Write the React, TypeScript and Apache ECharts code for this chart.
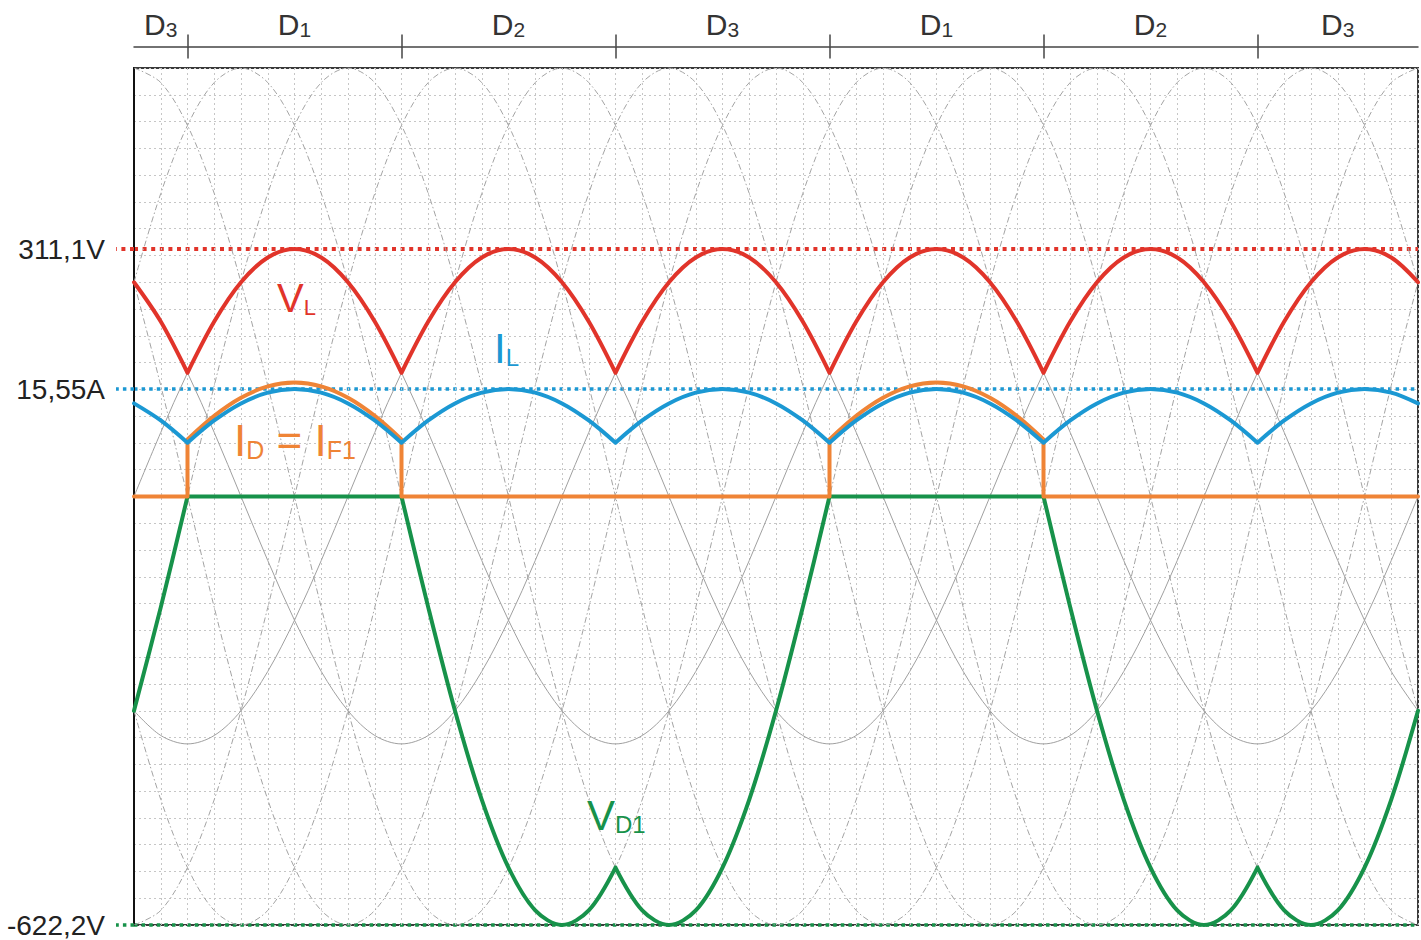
import React, { useEffect, useRef } from 'react';
import * as echarts from 'echarts';

// ---------- data ----------
// sampling grid of the angle axis, degrees (one sample per 15°, two periods)
const angleSamples = [
  0, 15, 30, 45, 60, 75, 90, 105, 120, 135, 150, 165, 180, 195, 210, 225, 240, 255, 270, 285, 300, 315, 330, 345,
  360, 375, 390, 405, 420, 435, 450, 465, 480, 495, 510, 525, 540, 555, 570, 585, 600, 615, 630, 645, 660, 675, 690, 705, 720,
];
const angleRange = [0, 720];

// one period of a phase voltage (V), every 15°
const phaseVoltageCycle = [
  0, 80.5, 155.6, 220.0, 269.4, 300.5, 311.1, 300.5, 269.4, 220.0, 155.6, 80.5,
  0, -80.5, -155.6, -220.0, -269.4, -300.5, -311.1, -300.5, -269.4, -220.0, -155.6, -80.5,
];
// one period of a line-to-line voltage (V), every 15°
const lineVoltageCycle = [
  0, 139.5, 269.4, 381.0, 466.6, 520.5, 538.8, 520.5, 466.6, 381.0, 269.4, 139.5,
  0, -139.5, -269.4, -381.0, -466.6, -520.5, -538.8, -520.5, -466.6, -381.0, -269.4, -139.5,
];
const phaseLagSamples = [0, 8, 16]; // phases A, B, C
const lineLeadSamples = [2, 6, 10, 14, 18, 22]; // AB, -BC, CA, -AB, BC, -CA

// one 120° conduction window, sampled every 15°
const windowOffsets = [0, 15, 30, 45, 60, 75, 90, 105, 120];
const loadVoltageArc = [155.6, 220.0, 269.4, 300.5, 311.1, 300.5, 269.4, 220.0, 155.6]; // V_L (V)
const loadCurrentArc = [7.78, 11.0, 13.47, 15.03, 15.55, 15.03, 13.47, 11.0, 7.78]; // I_L (A)
const diodeVoltageD1 = [0, 0, 0, 0, 0, 0, 0, 0, 0]; // V_D1 while D1 conducts
const diodeVoltageD2 = [0, -161.0, -311.1, -440.0, -538.8, -601.0, -622.2, -601.0, -538.8];
const diodeVoltageD3 = [-538.8, -601.0, -622.2, -601.0, -538.8, -440.0, -311.1, -161.0, 0];

const commutationAngles = [30, 150, 270, 390, 510, 630];
const conductingDiodes = ['D3', 'D1', 'D2', 'D3', 'D1', 'D2', 'D3'];

const peakLineVoltage = 538.8;
const peakPhaseVoltage = 311.1;
const peakLoadCurrent = 15.55;
const peakDiodeVoltage = -622.2;
const refLabelTexts = ['311,1V', '15,55A', '-622,2V'];

// ---------- colours ----------
const RED = '#e1342a';
const BLUE = '#1b98d3';
const ORANGE = '#ef8436';
const GREEN = '#17924a';
const FONT = 'Liberation Sans, Arial, sans-serif';

// ---------- derived series data ----------
const cycleLen = phaseVoltageCycle.length;
const wrap = (i: number) => ((i % cycleLen) + cycleLen) % cycleLen;

const windowSpan = commutationAngles[1] - commutationAngles[0];
const segments = conductingDiodes.map((diode, k) => ({
  diode,
  start: k === 0 ? angleRange[0] : commutationAngles[k - 1],
  end: k === conductingDiodes.length - 1 ? angleRange[1] : commutationAngles[k],
  windowStart: k === 0 ? commutationAngles[0] - windowSpan : commutationAngles[k - 1],
}));

function arcPoints(seg: any, arc: number[]) {
  const pts: any[] = [];
  windowOffsets.forEach((off, j) => {
    const a = seg.windowStart + off;
    if (a >= seg.start - 1e-9 && a <= seg.end + 1e-9) pts.push([a, arc[j]]);
  });
  return pts;
}

const vlData = segments.flatMap((s) => [...arcPoints(s, loadVoltageArc), [s.end, null]]);
const ilData = segments.flatMap((s) => [...arcPoints(s, loadCurrentArc), [s.end, null]]);
const vdArcs: Record<string, number[]> = { D1: diodeVoltageD1, D2: diodeVoltageD2, D3: diodeVoltageD3 };
const vdData = segments.flatMap((s) => [...arcPoints(s, vdArcs[s.diode]), [s.end, null]]);
const idData = segments.flatMap((s) => {
  if (s.diode !== 'D1') return [[s.start, 0], [s.end, 0], [s.end, null]];
  const pts = arcPoints(s, loadCurrentArc);
  const first = pts[0];
  const last = pts[pts.length - 1];
  return [
    [first[0], 0], first, [first[0], null],
    ...pts, [last[0], null],
    last, [last[0], 0], [last[0], null],
  ];
});

const boundaries = [angleRange[0], ...commutationAngles, angleRange[1]];
const segmentCenters = conductingDiodes.map((_, k) => (boundaries[k] + boundaries[k + 1]) / 2);

const gridLine = { color: '#c6c6c6', width: 1, type: [2, 3] };

function refAxis(min: number, max: number, value: number, text: string, color: string, dot: number, extra: any = {}) {
  return {
    type: 'value',
    min,
    max,
    position: 'left',
    axisLine: { show: false },
    axisTick: {
      show: true,
      customValues: [value],
      length: 18,
      lineStyle: { color, width: dot, type: [dot, dot + 0.6] },
    },
    axisLabel: {
      show: true,
      customValues: [value],
      formatter: () => text,
      margin: 29,
      fontSize: 28,
      color: '#222',
      fontFamily: FONT,
    },
    splitLine: { show: true, lineStyle: { color, width: dot, type: [dot, dot + 0.6] } },
    ...extra,
  };
}

const diodeLabelFormatter = (value: number) => {
  const idx = segmentCenters.findIndex((c) => Math.abs(c - value) < 1e-6);
  const name = conductingDiodes[idx] || '';
  return `{d|${name.slice(0, 1)}}{s|${name.slice(1)}}`;
};

function annotation(x: number, y: number, text: string, color: string, main: number, sub: number, subLH: number) {
  return {
    type: 'text',
    x,
    y,
    silent: true,
    style: {
      text,
      fill: color,
      align: 'left',
      verticalAlign: 'top',
      textAlign: 'left',
      textVerticalAlign: 'top',
      rich: {
        m: { fontSize: main, lineHeight: main, fontFamily: FONT, fill: color, verticalAlign: 'bottom' },
        s: { fontSize: sub, lineHeight: subLH, fontFamily: FONT, fill: color, verticalAlign: 'bottom' },
      },
    },
    z: 100,
  };
}

const thinSeries = (data: any[], lineStyle: any) => ({
  type: 'line',
  xAxisIndex: 0,
  yAxisIndex: 1,
  data,
  smooth: 0.33,
  symbol: 'none',
  silent: true,
  lineStyle,
});

const topAxisBase = {
  type: 'value',
  min: angleRange[0],
  max: angleRange[1],
  position: 'top',
  offset: 21.5,
  splitLine: { show: false },
};

const option: any = {
  animation: false,
  backgroundColor: '#ffffff',
  grid: {
    left: 134,
    right: 3,
    top: 68,
    bottom: 15,
    show: true,
    borderColor: '#3a3a3a',
    borderWidth: 2,
    backgroundColor: 'transparent',
  },
  xAxis: [
    {
      type: 'value',
      min: angleRange[0],
      max: angleRange[1],
      interval: 15,
      position: 'bottom',
      axisLine: { show: false, onZero: false },
      axisTick: { show: false },
      axisLabel: { show: false },
      splitLine: { show: true, lineStyle: gridLine },
    },
    {
      ...topAxisBase,
      axisLine: { show: true, onZero: false, lineStyle: { color: '#444', width: 1.5 } },
      axisTick: {
        show: true,
        inside: true,
        length: 12,
        customValues: commutationAngles,
        lineStyle: { color: '#444', width: 1.5 },
      },
      axisLabel: {
        show: true,
        customValues: segmentCenters,
        formatter: diodeLabelFormatter,
        margin: 7,
        rich: {
          d: { fontSize: 30, lineHeight: 30, color: '#333', fontFamily: FONT, verticalAlign: 'bottom' },
          s: { fontSize: 21, lineHeight: 13, color: '#333', fontFamily: FONT, verticalAlign: 'bottom' },
        },
      },
    },
    {
      ...topAxisBase,
      axisLine: { show: false, onZero: false },
      axisTick: {
        show: true,
        inside: false,
        length: 12,
        customValues: commutationAngles,
        lineStyle: { color: '#444', width: 1.5 },
      },
      axisLabel: { show: false },
    },
  ],
  yAxis: [
    {
      type: 'value',
      min: 0,
      max: 32,
      interval: 1,
      position: 'left',
      axisLine: { show: false, onZero: false },
      axisTick: { show: false },
      axisLabel: { show: false },
      splitLine: { show: true, lineStyle: gridLine },
    },
    refAxis(-peakLineVoltage, peakLineVoltage, peakPhaseVoltage, refLabelTexts[0], RED, 4, {
      axisLine: { show: true, onZero: false, lineStyle: { color: '#111', width: 2 } },
    }),
    refAxis(-62, 62, peakLoadCurrent, refLabelTexts[1], BLUE, 3.5),
    { type: 'value', min: -58.5, max: 58.5, show: false },
    refAxis(peakDiodeVoltage, -peakDiodeVoltage, peakDiodeVoltage, refLabelTexts[2], GREEN, 3.5),
  ],
  series: [
    ...phaseLagSamples.map((lag) =>
      thinSeries(
        angleSamples.map((a, i) => [a, phaseVoltageCycle[wrap(i - lag)]]),
        { color: '#a0a0a0', width: 1 }
      )
    ),
    ...lineLeadSamples.map((lead) =>
      thinSeries(
        angleSamples.map((a, i) => [a, lineVoltageCycle[wrap(i + lead)]]),
        { color: '#a4a4a4', width: 1, type: [6, 2.5, 1.5, 2.5] }
      )
    ),
    {
      type: 'line',
      name: 'V_D1',
      xAxisIndex: 0,
      yAxisIndex: 4,
      data: vdData,
      smooth: 0.33,
      symbol: 'none',
      clip: false,
      lineStyle: { color: GREEN, width: 4, cap: 'round', join: 'round' },
    },
    {
      type: 'line',
      name: 'I_D',
      xAxisIndex: 0,
      yAxisIndex: 3,
      data: idData,
      smooth: 0.33,
      symbol: 'none',
      lineStyle: { color: ORANGE, width: 4, cap: 'round', join: 'round' },
    },
    {
      type: 'line',
      name: 'I_L',
      xAxisIndex: 0,
      yAxisIndex: 2,
      data: ilData,
      smooth: 0.33,
      symbol: 'none',
      lineStyle: { color: BLUE, width: 4, cap: 'round', join: 'round' },
    },
    {
      type: 'line',
      name: 'V_L',
      xAxisIndex: 0,
      yAxisIndex: 1,
      data: vlData,
      smooth: 0.33,
      symbol: 'none',
      lineStyle: { color: RED, width: 4, cap: 'round', join: 'round' },
    },
  ],
  graphic: [
    annotation(277, 278, '{m|V}{s|L}', RED, 40, 22, 11.5),
    annotation(494, 327, '{m|I}{s|L}', BLUE, 42, 24, 11.5),
    annotation(234, 418, '{m|I}{s|D}{m| = I}{s|F1}', ORANGE, 44, 25, 14.8),
    annotation(587, 794, '{m|V}{s|D1}', GREEN, 42, 24, 15.5),
  ],
};

export default function App() {
  const ref = useRef<HTMLDivElement>(null);
  useEffect(() => {
    if (!ref.current) return;
    const chart = echarts.init(ref.current, null, { renderer: 'svg' });
    chart.setOption(option);
    return () => chart.dispose();
  }, []);
  return (
    <div
      ref={ref}
      style={{ position: 'absolute', left: 0, top: 0, width: 1421, height: 940, background: '#fff' }}
    />
  );
}
